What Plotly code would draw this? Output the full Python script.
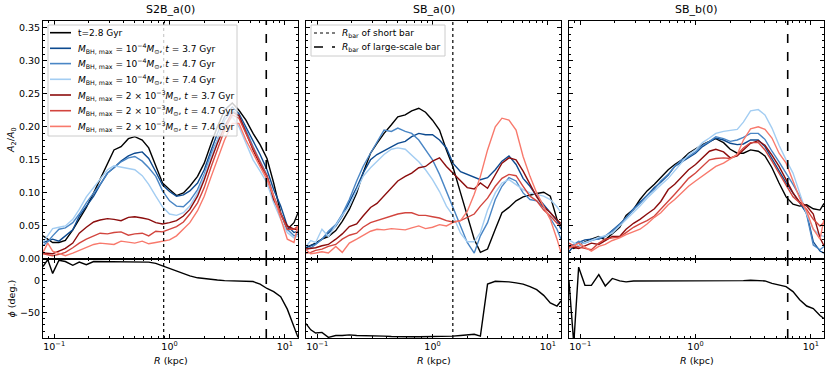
import math

import plotly.graph_objects as go
from plotly.subplots import make_subplots

# radius grid (kpc) shared by every profile
R_KPC = [0.08, 0.088, 0.097, 0.11, 0.125, 0.145, 0.165, 0.19, 0.22, 0.25, 0.29, 0.33, 0.38,
         0.44, 0.5, 0.58, 0.66, 0.76, 0.87, 1.0, 1.15, 1.32, 1.5, 1.75, 2.0, 2.3, 2.6, 3.0,
         3.5, 4.0, 4.6, 5.3, 6.1, 7.0, 8.0, 9.2, 10.5, 12.0, 13.0]

PANEL_TITLES = ["S2B_a(0)", "SB_a(0)", "SB_b(0)"]

SERIES_LABELS = [
    "t=2.8 Gyr",
    "<i>M</i><sub>BH, max</sub> = 10<sup>−4</sup><i>M</i><sub>⊙</sub>, <i>t</i> = 3.7 Gyr",
    "<i>M</i><sub>BH, max</sub> = 10<sup>−4</sup><i>M</i><sub>⊙</sub>, <i>t</i> = 4.7 Gyr",
    "<i>M</i><sub>BH, max</sub> = 10<sup>−4</sup><i>M</i><sub>⊙</sub>, <i>t</i> = 7.4 Gyr",
    "<i>M</i><sub>BH, max</sub> = 2 × 10<sup>−3</sup><i>M</i><sub>⊙</sub>, <i>t</i> = 3.7 Gyr",
    "<i>M</i><sub>BH, max</sub> = 2 × 10<sup>−3</sup><i>M</i><sub>⊙</sub>, <i>t</i> = 4.7 Gyr",
    "<i>M</i><sub>BH, max</sub> = 2 × 10<sup>−3</sup><i>M</i><sub>⊙</sub>, <i>t</i> = 7.4 Gyr",
]
SERIES_COLORS = ["#000000", "#0d4a8f", "#4a86c5", "#a3cdf2", "#8c0d0d", "#d2453e", "#f8796c"]

# --- S2B_a(0): A2/A0 ---
S2BA_T28 = [0.035, 0.03, 0.025, 0.025, 0.028, 0.044, 0.06, 0.078, 0.10, 0.12, 0.145, 0.165, 0.17,
            0.182, 0.185, 0.18, 0.168, 0.14, 0.115, 0.105, 0.096, 0.10, 0.11, 0.125, 0.145, 0.175,
            0.20, 0.225, 0.236, 0.225, 0.21, 0.19, 0.173, 0.152, 0.115, 0.07, 0.045, 0.055, 0.07]
S2BA_LO_37 = [0.025, 0.028, 0.03, 0.027, 0.035, 0.044, 0.065, 0.08, 0.095, 0.112, 0.13, 0.138, 0.148,
              0.156, 0.16, 0.162, 0.152, 0.132, 0.112, 0.102, 0.095, 0.097, 0.103, 0.115, 0.135, 0.165,
              0.19, 0.215, 0.23, 0.22, 0.2, 0.18, 0.158, 0.135, 0.105, 0.08, 0.05, 0.04, 0.042]
S2BA_LO_47 = [0.02, 0.026, 0.035, 0.045, 0.047, 0.055, 0.068, 0.085, 0.1, 0.113, 0.13, 0.138, 0.147,
              0.153, 0.155, 0.148, 0.138, 0.125, 0.103, 0.088, 0.08, 0.079, 0.088, 0.105, 0.128, 0.16,
              0.18, 0.21, 0.225, 0.217, 0.195, 0.17, 0.148, 0.127, 0.095, 0.07, 0.045, 0.035, 0.038]
S2BA_LO_74 = [0.025, 0.035, 0.046, 0.048, 0.05, 0.06, 0.075, 0.094, 0.108, 0.12, 0.135, 0.141, 0.139,
              0.137, 0.135, 0.126, 0.113, 0.095, 0.079, 0.068, 0.066, 0.07, 0.08, 0.1, 0.125, 0.155,
              0.18, 0.203, 0.215, 0.2, 0.175, 0.15, 0.133, 0.115, 0.085, 0.06, 0.04, 0.032, 0.035]
S2BA_HI_37 = [0.009, 0.009, 0.008, 0.012, 0.016, 0.024, 0.039, 0.048, 0.056, 0.059, 0.061, 0.06, 0.058,
              0.063, 0.064, 0.062, 0.06, 0.055, 0.053, 0.055, 0.058, 0.065, 0.075, 0.095, 0.12, 0.15,
              0.175, 0.2, 0.222, 0.217, 0.19, 0.165, 0.143, 0.125, 0.09, 0.068, 0.05, 0.045, 0.045]
S2BA_HI_47 = [0.008, 0.006, 0.005, 0.007, 0.01, 0.017, 0.024, 0.03, 0.035, 0.039, 0.038, 0.04, 0.041,
              0.036, 0.038, 0.039, 0.035, 0.042, 0.041, 0.045, 0.049, 0.056, 0.068, 0.085, 0.108, 0.14,
              0.165, 0.195, 0.218, 0.213, 0.19, 0.168, 0.148, 0.125, 0.095, 0.07, 0.045, 0.045, 0.05]
S2BA_HI_74 = [0.01, 0.024, 0.012, 0.008, 0.005, 0.009, 0.013, 0.018, 0.022, 0.024, 0.023, 0.022, 0.027,
              0.025, 0.024, 0.027, 0.023, 0.025, 0.027, 0.029, 0.035, 0.045, 0.055, 0.073, 0.095, 0.125,
              0.15, 0.18, 0.205, 0.205, 0.18, 0.16, 0.14, 0.12, 0.095, 0.06, 0.03, 0.025, 0.05]
S2BA_PHI = [23, 34, 12, 33, 31, 25, 30, 26, 31, 31, 31, 31, 31, 31, 31, 30.5, 30, 28, 24, 20, 15, 11,
            8, 5, 3.5, 2.5, 1.5, 0.5, 0, 0, 0, -1, -5, -12, -17, -25, -45, -72, -90]

# --- SB_a(0): A2/A0 ---
SBA_T28 = [0.017, 0.02, 0.024, 0.03, 0.034, 0.043, 0.057, 0.075, 0.1, 0.13, 0.16, 0.175, 0.19, 0.203,
           0.215, 0.218, 0.224, 0.228, 0.222, 0.21, 0.195, 0.165, 0.14, 0.10, 0.065, 0.03, 0.01, 0.015,
           0.045, 0.07, 0.078, 0.088, 0.094, 0.097, 0.099, 0.101, 0.095, 0.06, 0.05]
SBA_LO_37 = [0.018, 0.02, 0.023, 0.03, 0.04, 0.05, 0.065, 0.085, 0.108, 0.13, 0.15, 0.158, 0.164, 0.17,
             0.175, 0.178, 0.185, 0.19, 0.188, 0.188, 0.18, 0.168, 0.145, 0.132, 0.128, 0.124, 0.12,
             0.123, 0.135, 0.148, 0.156, 0.143, 0.122, 0.11, 0.095, 0.082, 0.07, 0.058, 0.045]
SBA_LO_47 = [0.015, 0.017, 0.022, 0.03, 0.042, 0.052, 0.068, 0.09, 0.118, 0.14, 0.16, 0.177, 0.195,
             0.193, 0.198, 0.193, 0.19, 0.18, 0.165, 0.15, 0.128, 0.102, 0.08, 0.05, 0.025, 0.009,
             0.035, 0.055, 0.09, 0.11, 0.123, 0.118, 0.1, 0.09, 0.088, 0.078, 0.062, 0.045, 0.03]
SBA_LO_74 = [0.019, 0.028, 0.025, 0.045, 0.034, 0.052, 0.066, 0.08, 0.105, 0.125, 0.138, 0.148, 0.158,
             0.166, 0.168, 0.166, 0.157, 0.147, 0.135, 0.12, 0.102, 0.08, 0.066, 0.039, 0.026, 0.026,
             0.04, 0.074, 0.1, 0.115, 0.12, 0.112, 0.105, 0.1, 0.097, 0.095, 0.09, 0.079, 0.07]
SBA_HI_37 = [0.015, 0.016, 0.017, 0.02, 0.022, 0.03, 0.038, 0.049, 0.053, 0.065, 0.078, 0.084, 0.095,
             0.108, 0.118, 0.125, 0.13, 0.138, 0.14, 0.148, 0.153, 0.14, 0.13, 0.117, 0.108, 0.106,
             0.115, 0.107, 0.128, 0.145, 0.153, 0.15, 0.133, 0.112, 0.094, 0.079, 0.07, 0.059, 0.054]
SBA_HI_47 = [0.009, 0.01, 0.013, 0.015, 0.019, 0.022, 0.03, 0.036, 0.039, 0.048, 0.055, 0.058, 0.061,
             0.065, 0.068, 0.07, 0.07, 0.066, 0.066, 0.064, 0.062, 0.058, 0.056, 0.058, 0.063, 0.068,
             0.08, 0.092, 0.11, 0.122, 0.128, 0.126, 0.11, 0.095, 0.088, 0.074, 0.065, 0.054, 0.05]
SBA_HI_74 = [0.014, 0.008, 0.009, 0.011, 0.009, 0.019, 0.01, 0.024, 0.03, 0.036, 0.042, 0.045, 0.044,
             0.046, 0.045, 0.044, 0.047, 0.05, 0.046, 0.048, 0.052, 0.05, 0.055, 0.058, 0.072, 0.098,
             0.125, 0.165, 0.2, 0.213, 0.21, 0.195, 0.155, 0.125, 0.1, 0.08, 0.06, 0.03, 0.01]
SBA_PHI = [-68, -78, -83, -82, -90, -87, -87, -86, -87, -87, -88, -88, -88, -88.5, -89, -89, -89, -89,
           -89, -88.5, -88.5, -88, -88, -87, -86, -85, -88, -5, -0.5, -0.5, -1.5, -3, -5, -9, -14,
           -23, -35, -40, -32]

# --- SB_b(0): A2/A0 ---
SBB_T28 = [0.019, 0.016, 0.02, 0.026, 0.03, 0.034, 0.029, 0.038, 0.048, 0.066, 0.075, 0.09, 0.103,
           0.113, 0.123, 0.135, 0.143, 0.15, 0.16, 0.167, 0.173, 0.178, 0.182, 0.176, 0.166, 0.16,
           0.16, 0.165, 0.163, 0.156, 0.138, 0.115, 0.094, 0.083, 0.08, 0.082, 0.076, 0.074, 0.084]
SBB_LO_37 = [0.011, 0.02, 0.025, 0.029, 0.03, 0.03, 0.034, 0.043, 0.053, 0.062, 0.076, 0.086, 0.096,
             0.108, 0.116, 0.127, 0.14, 0.147, 0.153, 0.16, 0.17, 0.177, 0.183, 0.18, 0.175, 0.173,
             0.174, 0.18, 0.18, 0.17, 0.152, 0.135, 0.115, 0.1, 0.084, 0.069, 0.026, 0.012, 0.009]
SBB_LO_47 = [0.019, 0.022, 0.027, 0.024, 0.028, 0.031, 0.035, 0.042, 0.052, 0.063, 0.075, 0.084, 0.096,
             0.106, 0.118, 0.128, 0.14, 0.15, 0.155, 0.162, 0.172, 0.178, 0.185, 0.182, 0.178, 0.18,
             0.184, 0.19, 0.19, 0.181, 0.163, 0.147, 0.13, 0.113, 0.095, 0.067, 0.021, 0.014, 0.019]
SBB_LO_74 = [0.029, 0.024, 0.02, 0.025, 0.028, 0.033, 0.035, 0.039, 0.05, 0.06, 0.07, 0.08, 0.092,
             0.103, 0.112, 0.122, 0.133, 0.145, 0.158, 0.165, 0.176, 0.183, 0.19, 0.193, 0.194, 0.196,
             0.207, 0.224, 0.226, 0.218, 0.198, 0.172, 0.15, 0.13, 0.1, 0.068, 0.045, 0.036, 0.034]
SBB_HI_37 = [0.019, 0.017, 0.016, 0.02, 0.024, 0.022, 0.028, 0.034, 0.034, 0.045, 0.054, 0.06, 0.068,
             0.076, 0.087, 0.105, 0.113, 0.125, 0.135, 0.143, 0.153, 0.163, 0.166, 0.162, 0.153, 0.156,
             0.165, 0.175, 0.179, 0.172, 0.157, 0.14, 0.12, 0.1, 0.086, 0.08, 0.068, 0.032, 0.02]
SBB_HI_47 = [0.024, 0.02, 0.018, 0.016, 0.014, 0.024, 0.03, 0.032, 0.033, 0.04, 0.048, 0.053, 0.058,
             0.065, 0.075, 0.088, 0.098, 0.11, 0.122, 0.13, 0.14, 0.15, 0.152, 0.153, 0.152, 0.158,
             0.168, 0.176, 0.176, 0.165, 0.148, 0.13, 0.11, 0.094, 0.085, 0.075, 0.06, 0.05, 0.055]
SBB_HI_74 = [0.016, 0.02, 0.024, 0.018, 0.012, 0.019, 0.022, 0.028, 0.032, 0.037, 0.041, 0.045, 0.053,
             0.063, 0.07, 0.082, 0.09, 0.1, 0.11, 0.118, 0.126, 0.133, 0.14, 0.145, 0.151, 0.158, 0.18,
             0.197, 0.2, 0.196, 0.183, 0.16, 0.145, 0.117, 0.092, 0.072, 0.045, 0.03, 0.06]
SBB_PHI = [0, -100, 22, -7, -7, 10, -8, 4, 0, -1.5, 0, 0, -0.5, 0, 0.5, 0, 0, 0.5, 0, 0, 0, 0, 0.5, 0,
           0, 0.5, 0.5, 1, 1, 0, -4, -7, -9, -17, -30, -40, -44, -55, -60]

# bar radii (kpc): (panel column, radius, kind)
BAR_RADII = [(1, 0.89, "short"), (1, 6.9, "large"), (2, 1.5, "short"), (3, 6.3, "large")]
BAR_KINDS = ["short", "large"]
BAR_LABELS = {"short": "<i>R</i><sub>bar</sub> of short bar",
              "large": "<i>R</i><sub>bar</sub> of large-scale bar"}
BAR_DASH = {"short": "dot", "large": "dash"}
BAR_WIDTH = {"short": 1.2, "large": 1.6}

A2_RANGE = [0, 0.36]
PHI_RANGE = [-91, 35]

PANELS = [
    [S2BA_T28, S2BA_LO_37, S2BA_LO_47, S2BA_LO_74, S2BA_HI_37, S2BA_HI_47, S2BA_HI_74],
    [SBA_T28, SBA_LO_37, SBA_LO_47, SBA_LO_74, SBA_HI_37, SBA_HI_47, SBA_HI_74],
    [SBB_T28, SBB_LO_37, SBB_LO_47, SBB_LO_74, SBB_HI_37, SBB_HI_47, SBB_HI_74],
]
PHIS = [S2BA_PHI, SBA_PHI, SBB_PHI]

FONT = "DejaVu Sans"
W, H = 830, 373
ML, MR, MT, MB = 43, 6, 21, 35
PW, PH = W - ML - MR, H - MT - MB  # plot area, which is what "paper" refers to


def px_x(x):
    return (x - ML) / PW


def px_y(y):
    return (H - MB - y) / PH


fig = make_subplots(rows=2, cols=3, row_heights=[238, 79], vertical_spacing=0,
                    horizontal_spacing=8 / PW)

for col, profiles in enumerate(PANELS, start=1):
    for label, color, values in zip(SERIES_LABELS, SERIES_COLORS, profiles):
        fig.add_trace(go.Scatter(x=R_KPC, y=values, mode="lines", name=label,
                                 line=dict(color=color, width=1.4), showlegend=False),
                      row=1, col=col)
    fig.add_trace(go.Scatter(x=R_KPC, y=PHIS[col - 1], mode="lines", line=dict(color="black", width=1.4),
                             showlegend=False), row=2, col=col)

for col, radius, kind in BAR_RADII:
    line = dict(color="black", dash=BAR_DASH[kind], width=BAR_WIDTH[kind])
    fig.add_trace(go.Scatter(x=[radius, radius], y=A2_RANGE, mode="lines", line=line,
                             name=BAR_LABELS[kind], showlegend=False), row=1, col=col)
    fig.add_trace(go.Scatter(x=[radius, radius], y=PHI_RANGE, mode="lines", line=line,
                             showlegend=False), row=2, col=col)

axis_style = dict(showline=True, linecolor="black", linewidth=1, mirror="allticks", ticks="inside",
                  ticklen=4, tickcolor="black", showgrid=False, zeroline=False,
                  tickfont=dict(family=FONT, size=9.5, color="black"))
fig.update_xaxes(type="log", range=[math.log10(0.08), math.log10(13)], tickvals=[0.1, 1, 10],
                 ticktext=["10<sup>−1</sup>", "10<sup>0</sup>", "10<sup>1</sup>"],
                 minor=dict(ticks="inside", ticklen=2, tickcolor="black", dtick="D1"), **axis_style)
fig.update_xaxes(showticklabels=False, row=1)
fig.update_yaxes(range=A2_RANGE, dtick=0.05, tickformat=".2f",
                 minor=dict(ticks="inside", ticklen=2, tickcolor="black", dtick=0.01), **axis_style, row=1)
fig.update_yaxes(range=PHI_RANGE, tickvals=[-50, 0],
                 minor=dict(ticks="inside", ticklen=2, tickcolor="black", dtick=10), **axis_style, row=2)
fig.update_yaxes(showticklabels=False, col=2)
fig.update_yaxes(showticklabels=False, col=3)

annotations = []
shapes = []
for i, title in enumerate(PANEL_TITLES):
    xref = "x domain" if i == 0 else f"x{i + 1} domain"
    annotations.append(dict(text=title, xref=xref, x=0.5, yref="paper", y=px_y(10), yanchor="middle",
                            showarrow=False, font=dict(family=FONT, size=11, color="black")))
    annotations.append(dict(text="<i>R</i> (kpc)", xref=f"x{i + 4} domain", x=0.5, yref="paper",
                            y=px_y(360), yanchor="middle", showarrow=False,
                            font=dict(family=FONT, size=9.5, color="black")))
annotations.append(dict(text="<i>A</i><sub>2</sub>/<i>A</i><sub>0</sub>", xref="paper", x=px_x(11),
                        xanchor="center", yref="y domain", y=0.5, yanchor="middle", textangle=-90,
                        showarrow=False, font=dict(family=FONT, size=9.5, color="black")))
annotations.append(dict(text="<i>ϕ</i> (deg.)", xref="paper", x=px_x(11), xanchor="center",
                        yref="y4 domain", y=0.5, yanchor="middle", textangle=-90, showarrow=False,
                        font=dict(family=FONT, size=9.5, color="black")))


def add_legend(box, entries, row_y, line_x, text_x):
    # matplotlib-style legend: framed box, short line samples and labels, placed in pixels
    x0, y0, x1, y1 = box
    shapes.append(dict(type="rect", xref="paper", yref="paper", x0=px_x(x0), x1=px_x(x1),
                       y0=px_y(y1), y1=px_y(y0), fillcolor="rgba(255,255,255,0.8)",
                       line=dict(color="#cccccc", width=1), layer="above"))
    for (label, line), y in zip(entries, row_y):
        shapes.append(dict(type="line", xref="paper", yref="paper", x0=px_x(line_x[0]),
                           x1=px_x(line_x[1]), y0=px_y(y), y1=px_y(y), line=line, layer="above"))
        annotations.append(dict(text=label, xref="paper", yref="paper", x=px_x(text_x), y=px_y(y),
                                xanchor="left", yanchor="middle", showarrow=False,
                                font=dict(family=FONT, size=9, color="black")))


add_legend((48, 25, 237, 136),
           [(lab, dict(color=c, width=1.6)) for lab, c in zip(SERIES_LABELS, SERIES_COLORS)],
           [32.7, 48.3, 63.6, 79.3, 95.0, 110.7, 126.4], (50, 71), 76)
add_legend((311, 25, 445, 56),
           [(BAR_LABELS[k], dict(color="black", dash=BAR_DASH[k], width=BAR_WIDTH[k])) for k in BAR_KINDS],
           [33.0, 47.0], (314, 335), 340)

fig.update_layout(
    width=W, height=H,
    margin=dict(l=ML, r=MR, t=MT, b=MB),
    paper_bgcolor="white", plot_bgcolor="white",
    font=dict(family=FONT, color="black"),
    annotations=annotations,
    shapes=shapes,
    showlegend=False,
)

# the page body has a default 8px margin; drop it so the figure sits at the window origin
fig.write_html("out.html", config={"displayModeBar": False},
               post_script="document.body.style.margin = '0';")
